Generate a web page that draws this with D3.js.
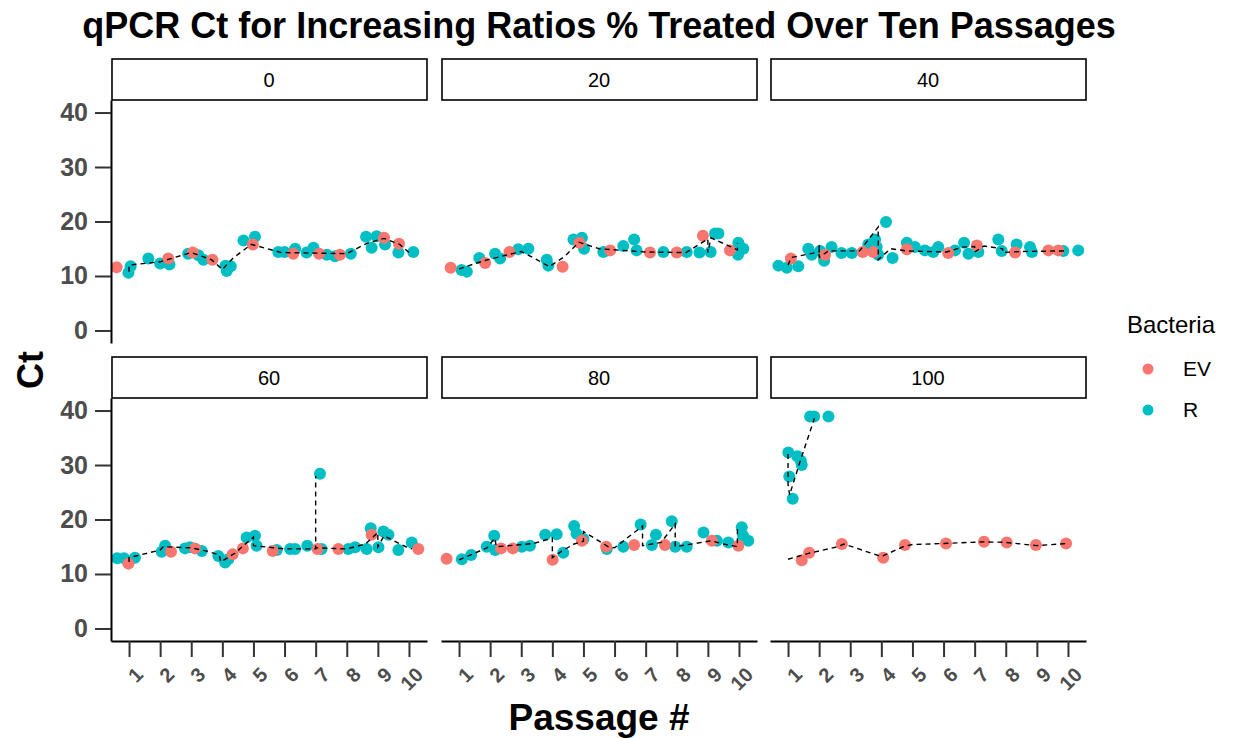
<!DOCTYPE html>
<html>
<head>
<meta charset="utf-8">
<script src="https://cdn.jsdelivr.net/npm/d3@7"></script>
<style>
body { margin: 0; background: #fff; }
svg { font-family: "Liberation Sans", Arial, sans-serif; }
</style>
</head>
<body>
<svg width="1233" height="738"></svg>
<script>
var ratios = ["0", "20", "40", "60", "80", "100"];
var passages = [1, 2, 3, 4, 5, 6, 7, 8, 9, 10];
var ctTicks = [0, 10, 20, 30, 40];
var bacteria = ["EV", "R"];

// points per panel: [jittered passage, Ct]
var ev0 = [[0.6, 11.6], [2.26, 13.2], [3.05, 14.3], [3.68, 13.0], [4.98, 15.8], [6.28, 14.1], [7.11, 14.1], [7.78, 13.9], [9.2, 17.0], [9.68, 15.9]];
var r0 = [[0.98, 10.6], [1.05, 11.8], [1.62, 13.2], [2.0, 12.3], [2.3, 12.1], [2.9, 14.1], [3.23, 13.8], [3.39, 13.0], [4.14, 10.9], [4.27, 11.8], [4.1, 11.9],
	[4.68, 16.5], [5.05, 17.2], [5.8, 14.4], [6.0, 14.4], [6.34, 15.0], [6.71, 14.3], [6.93, 15.2], [7.36, 13.9], [7.62, 13.6], [8.13, 14.1],
	[8.62, 17.2], [8.8, 15.2], [8.96, 17.3], [9.23, 15.8], [9.66, 14.3], [10.14, 14.4]];
var guide0 = [[1.0, 10.8], [1.0, 12.0], [2.0, 12.6], [3.0, 14.3], [3.65, 13.0], [4.0, 11.2], [4.35, 13.3], [4.93, 15.8], [5.9, 14.3], [8.0, 14.1], [8.65, 16.0], [9.2, 16.9], [9.7, 15.8], [10.0, 14.3]];

var ev20 = [[0.73, 11.5], [1.84, 12.4], [2.62, 14.4], [4.33, 11.7], [4.87, 16.1], [5.86, 14.7], [7.14, 14.3], [8.0, 14.3], [8.84, 17.4], [9.71, 14.7]];
var r20 = [[1.08, 11.1], [1.25, 10.8], [1.65, 13.3], [2.16, 14.1], [2.32, 13.2], [2.9, 14.9], [3.23, 15.0], [3.82, 13.0], [3.87, 11.9], [4.68, 16.7],
	[4.95, 17.0], [5.02, 15.0], [5.64, 14.4], [6.28, 15.5], [6.63, 16.7], [6.71, 14.7], [7.57, 14.4], [8.32, 14.4], [8.73, 14.3], [9.09, 14.4],
	[9.23, 17.8], [9.34, 17.8], [9.98, 16.1], [10.14, 15.0], [9.97, 13.9]];
var guide20 = [[1.0, 11.3], [1.8, 12.8], [2.5, 13.8], [3.0, 14.5], [3.5, 13.0], [3.9, 11.7], [4.4, 13.6], [4.85, 16.2], [5.5, 15.0], [7.0, 14.4], [8.3, 14.3], [9.0, 16.8], [9.0, 14.3], [9.1, 17.0], [9.95, 14.8], [9.95, 16.0]];

var ev40 = [[1.09, 13.2], [2.19, 13.9], [3.4, 14.4], [3.74, 14.4], [4.82, 14.9], [6.15, 14.2], [7.07, 15.6], [8.3, 14.3], [9.37, 14.7], [9.69, 14.7]];
var r40 = [[0.69, 11.9], [0.96, 11.5], [1.33, 11.8], [1.65, 15.0], [1.76, 13.9], [2.03, 14.6], [2.16, 12.8], [2.4, 15.3], [2.72, 14.2], [3.05, 14.2],
	[3.58, 15.8], [3.8, 16.7], [3.85, 15.3], [3.9, 13.9], [4.15, 19.9], [4.36, 13.3], [4.82, 16.1], [5.08, 15.3], [5.4, 14.7], [5.83, 15.3],
	[5.67, 14.4], [6.37, 14.7], [6.66, 16.1], [6.8, 14.1], [7.12, 14.4], [7.76, 16.7], [7.87, 14.6], [8.35, 15.8], [8.78, 15.3], [8.84, 14.4],
	[9.85, 14.6], [10.33, 14.7]];
var guide40 = [[1.0, 12.0], [1.1, 13.4], [2.0, 14.4], [2.0, 15.8], [2.0, 13.4], [2.3, 14.6], [3.3, 14.6], [3.9, 19.0], [3.9, 13.0], [4.3, 15.0], [4.8, 14.6], [5.4, 14.5],
	[6.1, 14.4], [6.6, 15.3], [7.0, 15.4], [7.0, 14.4], [7.3, 15.5], [7.9, 15.0], [7.9, 14.3], [8.5, 14.5], [10.0, 14.6]];

var ev60 = [[0.98, 11.9], [2.35, 14.1], [3.12, 14.7], [4.33, 13.6], [4.66, 14.7], [5.62, 14.2], [7.06, 14.6], [7.73, 14.6], [8.8, 17.2], [10.3, 14.6]];
var r60 = [[0.62, 12.9], [0.84, 12.9], [1.19, 13.0], [2.05, 14.1], [2.16, 15.2], [2.8, 14.7], [2.96, 14.9], [3.34, 14.2], [3.87, 13.3], [4.09, 12.1],
	[4.19, 12.7], [4.78, 16.7], [5.05, 17.0], [5.1, 15.2], [5.75, 14.4], [6.18, 14.6], [6.34, 14.6], [6.73, 15.2], [7.14, 28.4], [7.19, 14.6],
	[8.05, 14.6], [8.27, 14.9], [8.64, 14.6], [8.77, 18.4], [9.02, 14.9], [9.18, 17.8], [9.34, 17.2], [9.66, 14.4], [10.09, 15.8]];
var guide60 = [[1.0, 12.2], [1.0, 13.0], [2.0, 14.4], [2.1, 15.0], [3.0, 14.8], [3.5, 14.2], [3.9, 13.5], [3.95, 12.2], [4.4, 13.8], [5.0, 16.8], [5.0, 15.2],
	[6.0, 14.6], [7.0, 14.6], [7.0, 28.0], [7.0, 14.8], [8.0, 14.6], [8.6, 15.5], [9.0, 17.6], [9.0, 15.0], [9.2, 17.0], [9.9, 15.0], [10.1, 14.6]];

var ev80 = [[0.6, 12.8], [2.35, 14.7], [2.73, 14.7], [4.01, 12.6], [4.95, 16.1], [5.73, 15.0], [6.63, 15.3], [7.62, 15.3], [9.13, 16.1], [9.98, 15.2]];
var r80 = [[1.09, 12.7], [1.39, 13.5], [1.89, 15.0], [2.13, 17.0], [2.16, 14.4], [3.02, 15.0], [3.28, 15.2], [3.77, 17.2], [4.14, 17.3], [4.35, 13.9],
	[4.7, 18.8], [4.78, 17.4], [5.0, 16.4], [5.75, 14.6], [6.28, 15.0], [6.84, 19.1], [7.2, 15.3], [7.33, 17.2], [7.84, 19.7], [7.95, 15.0],
	[8.32, 15.0], [8.86, 17.6], [9.29, 16.1], [9.66, 15.8], [10.09, 18.6], [10.3, 16.1], [10.13, 17.0]];
var guide80 = [[1.0, 12.6], [1.9, 14.8], [2.15, 16.6], [2.2, 15.0], [3.4, 15.6], [4.0, 16.6], [4.0, 13.0], [4.3, 14.2], [4.7, 15.5], [5.0, 16.0], [5.0, 17.8],
	[5.8, 15.0], [6.0, 14.8], [6.9, 18.8], [6.9, 15.2], [7.5, 15.8], [7.95, 19.2], [7.95, 15.0], [8.8, 15.8], [9.1, 16.1], [9.5, 15.5], [9.95, 15.0], [9.95, 18.2]];

var ev100 = [[1.44, 12.5], [1.68, 13.9], [2.73, 15.5], [4.06, 13.0], [4.76, 15.3], [6.08, 15.6], [7.3, 15.9], [8.03, 15.8], [8.97, 15.3], [9.94, 15.6]];
var r100 = [[1.01, 32.3], [1.04, 27.9], [1.15, 23.8], [1.3, 31.6], [1.41, 30.8], [1.44, 30.0], [1.71, 38.9], [1.84, 38.9], [2.3, 38.9]];
var guide100ev = [[1.0, 12.7], [1.6, 13.7], [2.6, 15.0], [2.8, 15.5], [4.0, 13.2], [4.7, 15.0], [5.0, 15.4], [6.0, 15.6], [7.3, 15.9], [8.0, 15.8], [9.0, 15.2], [10.0, 15.6]];
var guide100r = [[1.0, 32.0], [1.0, 26.5], [1.05, 24.5], [1.35, 30.0], [1.85, 38.6]];

var evSets = [ev0, ev20, ev40, ev60, ev80, ev100];
var rSets = [r0, r20, r40, r60, r80, r100];
var guideSets = [[guide0], [guide20], [guide40], [guide60], [guide80], [guide100ev, guide100r]];

var colors = { EV: "#F8766D", R: "#00BFC4" };

var colX = [111, 441, 770],
	rowY = [100, 398],
	panelW = 316,
	panelH = 243,
	stripH = 41,
	dotR = 6;

var svg = d3.select("svg");

var x = d3.scaleLinear().domain([0.42, 10.58]).range([0, panelW]);
var y = d3.scaleLinear().domain([-2.3, 42.3]).range([panelH, 0]);

var line = d3
	.line()
	.x(function(d) { return x(d[0]); })
	.y(function(d) { return y(d[1]); });

// title
svg
	.append("text")
	.attr("x", 599)
	.attr("y", 38)
	.attr("text-anchor", "middle")
	.attr("font-size", 36)
	.attr("font-weight", "bold")
	.text("qPCR Ct for Increasing Ratios % Treated Over Ten Passages");

ratios.forEach(function(ratio, i) {
	var col = i % 3,
		row = Math.floor(i / 3);

	var g = svg
		.append("g")
		.attr("transform", "translate(" + colX[col] + "," + rowY[row] + ")");

	// strip
	g.append("rect")
		.attr("x", 1)
		.attr("y", -stripH)
		.attr("width", panelW - 1)
		.attr("height", stripH)
		.attr("fill", "#fff")
		.attr("stroke", "#000")
		.attr("stroke-width", 1.6);

	g.append("text")
		.attr("x", panelW / 2)
		.attr("y", -stripH / 2)
		.attr("dy", "0.35em")
		.attr("text-anchor", "middle")
		.attr("font-size", 20)
		.text(ratio);

	g.selectAll(".dot-r")
		.data(rSets[i])
		.enter()
		.append("circle")
		.attr("class", "dot-r")
		.attr("cx", function(d) { return x(d[0]); })
		.attr("cy", function(d) { return y(d[1]); })
		.attr("r", dotR)
		.attr("fill", colors.R);

	g.selectAll(".dot-ev")
		.data(evSets[i])
		.enter()
		.append("circle")
		.attr("class", "dot-ev")
		.attr("cx", function(d) { return x(d[0]); })
		.attr("cy", function(d) { return y(d[1]); })
		.attr("r", dotR)
		.attr("fill", colors.EV);

	g.selectAll(".guide")
		.data(guideSets[i])
		.enter()
		.append("path")
		.attr("class", "guide")
		.attr("d", line)
		.attr("fill", "none")
		.attr("stroke", "#000")
		.attr("stroke-width", 1.4)
		.attr("stroke-dasharray", "5,4");

	if (col === 0) {
		var ya = g
			.append("g")
			.call(d3.axisLeft(y).tickValues(ctTicks).tickSizeInner(16).tickSizeOuter(0).tickPadding(7));
		ya.select(".domain").attr("stroke", "#000").attr("stroke-width", 2);
		ya.selectAll(".tick line").attr("stroke", "#333").attr("stroke-width", 2);
		ya.selectAll(".tick text")
			.attr("font-size", 25)
			.attr("font-weight", "bold")
			.attr("fill", "#4d4d4d")
			.attr("font-family", "Liberation Sans, Arial, sans-serif");
	}

	if (row === 1) {
		var xa = g
			.append("g")
			.attr("transform", "translate(0," + panelH + ")")
			.call(d3.axisBottom(x).tickValues(passages).tickSizeInner(16).tickSizeOuter(0));
		xa.select(".domain").attr("stroke", "#000").attr("stroke-width", 2);
		xa.selectAll(".tick line").attr("stroke", "#333").attr("stroke-width", 2);
		xa.selectAll(".tick text")
			.attr("y", null)
			.attr("dy", "0.35em")
			.attr("transform", "translate(10,30) rotate(-45)")
			.attr("text-anchor", "end")
			.attr("font-size", 20)
			.attr("font-weight", "bold")
			.attr("fill", "#4d4d4d")
			.attr("font-family", "Liberation Sans, Arial, sans-serif");
	}
});

// axis titles
svg
	.append("text")
	.attr("transform", "translate(43,370) rotate(-90)")
	.attr("text-anchor", "middle")
	.attr("font-size", 36)
	.attr("font-weight", "bold")
	.text("Ct");

svg
	.append("text")
	.attr("x", 599)
	.attr("y", 730)
	.attr("text-anchor", "middle")
	.attr("font-size", 37)
	.attr("font-weight", "bold")
	.text("Passage #");

// legend
var legend = svg.append("g").attr("transform", "translate(1127,0)");

legend
	.append("text")
	.attr("x", 0)
	.attr("y", 333)
	.attr("font-size", 24)
	.text("Bacteria");

legend
	.selectAll(".key")
	.data(bacteria)
	.enter()
	.append("circle")
	.attr("class", "key")
	.attr("cx", 21)
	.attr("cy", function(d, i) { return 369 + i * 41; })
	.attr("r", 5.5)
	.attr("fill", function(d) { return colors[d]; });

legend
	.selectAll(".key-label")
	.data(bacteria)
	.enter()
	.append("text")
	.attr("class", "key-label")
	.attr("x", 56)
	.attr("y", function(d, i) { return 369 + i * 41; })
	.attr("dy", "0.35em")
	.attr("font-size", 21)
	.text(function(d) { return d; });
</script>
</body>
</html>
